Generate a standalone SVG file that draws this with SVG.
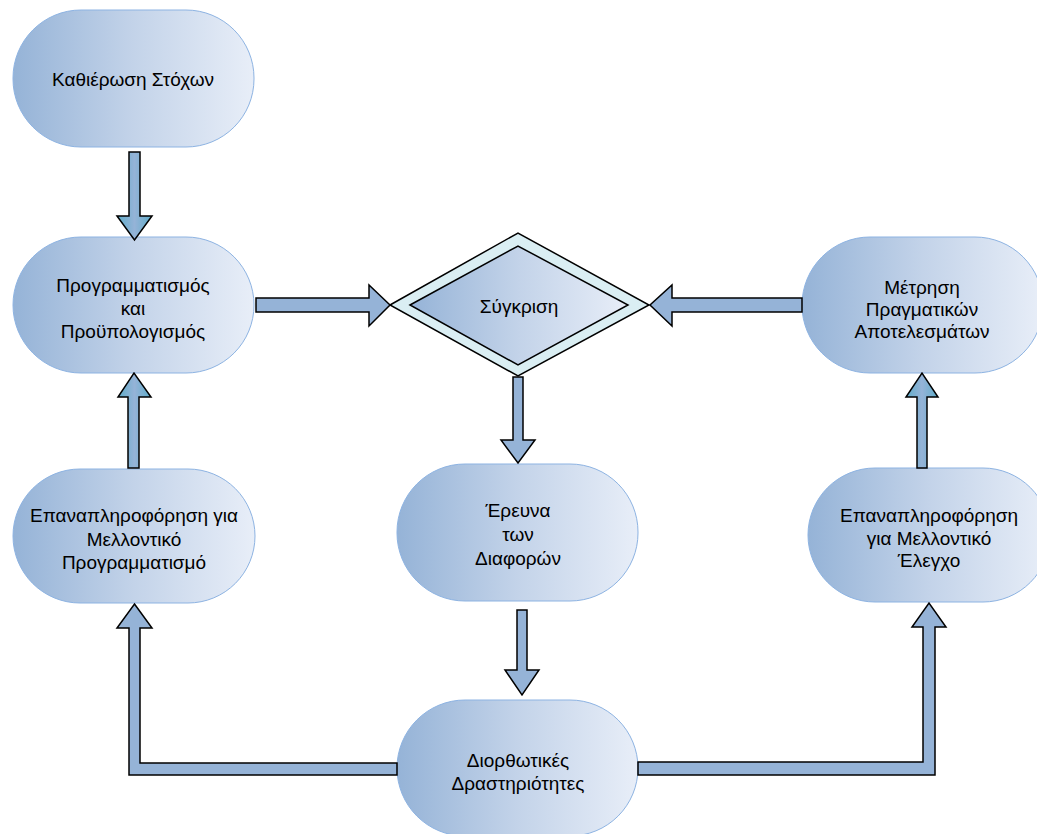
<svg xmlns="http://www.w3.org/2000/svg" width="1037" height="834" viewBox="0 0 1037 834">
<defs>
<linearGradient id="nodeGrad" x1="0" y1="0" x2="1" y2="0">
<stop offset="0" stop-color="#95b3d7"/>
<stop offset="0.5" stop-color="#c3d3e9"/>
<stop offset="1" stop-color="#e8eef8"/>
</linearGradient>
<linearGradient id="tealGrad" x1="0" y1="0" x2="1" y2="0">
<stop offset="0" stop-color="#5fadca"/>
<stop offset="0.5" stop-color="#95b3d7"/>
<stop offset="1" stop-color="#5fadca"/>
</linearGradient>
<style>
.node{fill:url(#nodeGrad);stroke:#8db3e2;stroke-width:1}
.lbl{font-family:"Liberation Sans",Arial,sans-serif;font-size:19px;fill:#000;text-anchor:middle}
.arr{fill:#95b3d7;stroke:#000;stroke-width:1.5;stroke-linejoin:miter}
.arrT{fill:url(#tealGrad);stroke:#000;stroke-width:1.5}
</style>
</defs>
<rect width="1037" height="834" fill="#ffffff"/>

<g id="n-kathierosi">
<rect class="node" x="13" y="10" width="241" height="137" rx="68" ry="68"/>
<text class="lbl" x="133" y="86">Καθιέρωση Στόχων</text>
</g>

<g id="n-programmatismos">
<rect class="node" x="13" y="237" width="241" height="136" rx="68" ry="68"/>
<text class="lbl" x="133" y="292">Προγραμματισμός</text>
<text class="lbl" x="133" y="315">και</text>
<text class="lbl" x="133" y="338">Προϋπολογισμός</text>
</g>

<g id="n-epanapl-prog">
<rect class="node" x="13" y="469" width="242" height="134" rx="67" ry="67"/>
<text class="lbl" x="134" y="522">Επαναπληροφόρηση για</text>
<text class="lbl" x="134" y="546">Μελλοντικό</text>
<text class="lbl" x="134" y="569">Προγραμματισμό</text>
</g>

<g id="n-sygkrisi">
<polygon points="390,305 518,233 649,305 518,376" fill="#daeef3" stroke="#000" stroke-width="1.5"/>
<polygon points="410,305 518,246 628,305 518,365" fill="url(#nodeGrad)" stroke="#000" stroke-width="1.5"/>
<text class="lbl" x="519" y="313">Σύγκριση</text>
</g>

<g id="n-metrisi">
<rect class="node" x="802" y="237" width="241" height="136" rx="68" ry="68"/>
<text class="lbl" x="922" y="294">Μέτρηση</text>
<text class="lbl" x="922" y="316">Πραγματικών</text>
<text class="lbl" x="922" y="338">Αποτελεσμάτων</text>
</g>

<g id="n-epanapl-elegx">
<rect class="node" x="808" y="468" width="242" height="134" rx="67" ry="67"/>
<text class="lbl" x="929" y="522">Επαναπληροφόρηση</text>
<text class="lbl" x="929" y="545">για Μελλοντικό</text>
<text class="lbl" x="929" y="567">Έλεγχο</text>
</g>

<g id="n-erevna">
<rect class="node" x="397" y="464" width="241" height="137" rx="68" ry="68"/>
<text class="lbl" x="518" y="517">Έρευνα</text>
<text class="lbl" x="518" y="541">των</text>
<text class="lbl" x="518" y="565">Διαφορών</text>
</g>

<g id="n-diorthotikes">
<rect class="node" x="397" y="700" width="241" height="136" rx="68" ry="68"/>
<text class="lbl" x="518" y="767">Διορθωτικές</text>
<text class="lbl" x="518" y="790">Δραστηριότητες</text>
</g>

<g id="connectors">
<polygon class="arrT" points="129,152 140,152 140,216 152,216 134.5,240 117,216 129,216"/>
<polygon class="arrT" points="128,468 139,468 139,397 151,397 134,373 118,397 128,397"/>
<polygon class="arrT" points="917,468 927,468 927,397 938,397 922,373 906,397 917,397"/>
<polygon class="arr" points="256,298 369,298 369,285 390,305 369,326 369,312 256,312"/>
<polygon class="arr" points="802,298 672,298 672,285 650,305 672,326 672,312 802,312"/>
<polygon class="arr" points="513,377 523,377 523,440 535,440 518,463 501,440 513,440"/>
<polygon class="arr" points="517,610 527,610 527,670 539,670 522,695 505,670 517,670"/>
<polygon class="arr" points="134.5,604 152,628 140,628 140,763 397,763 397,775 129,775 129,628 117,628"/>
<polygon class="arr" points="638,762 923,762 923,627 912,627 929,603 946,627 935,627 935,775 638,775"/>
</g>
</svg>
